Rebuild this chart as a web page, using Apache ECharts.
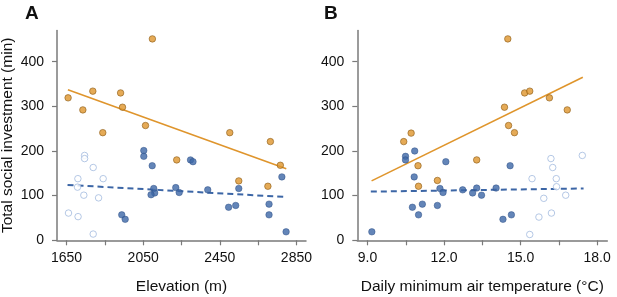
<!DOCTYPE html>
<html>
<head>
<meta charset="utf-8">
<script src="https://cdn.jsdelivr.net/npm/echarts@6/dist/echarts.min.js"></script>
<style>html,body{margin:0;padding:0;background:#fff}#c{width:617px;height:297px}</style>
</head>
<body>
<div id="c"></div>
<script>
// ---- Panel A: elevation (m) ----
const elevOrange = [1658,1735,1787,1839,1932,1942,2062,2098,2225,2502,2549,2701,2714,2766];
const socOrangeA = [319,292,334,241,330,298,257,451,180,241,133,121,221,168];
const elevBlue = [2053,2053,2097,2105,2110,2091,2220,2238,1938,1956,2297,2310,2387,2549,2774,2496,2533,2707,2707,2796];
const socBlueA = [201,188,167,116,106,102,118,107,57,47,180,176,113,116,142,74,78,81,57,19];
const elevOpen = [1744,1744,1789,1709,1841,1707,1740,1817,1660,1710,1789];
const socOpenA = [190,183,163,138,138,119,101,95,61,53,14];
const trendOrangeA_x = [1657,2797], trendOrangeA_y = [337,160];
const trendBlueA_x = [1655,2797], trendBlueA_y = [124,97];

// ---- Panel B: daily minimum air temperature (°C) ----
const tempOrange = [10.42,10.71,10.98,11.0,11.74,13.28,14.76,14.50,15.16,15.36,16.13,16.83,14.37,14.53];
const socOrangeB = [221,240,167,121,134,180,241,451,330,334,319,292,298,257];
const tempBlue = [10.49,10.49,10.85,10.83,12.07,11.84,11.96,12.73,13.12,13.28,13.47,10.76,11.15,11.0,11.74,9.17,14.59,14.04,14.31,14.64];
const socBlueB = [188,180,200,142,176,116,107,113,106,117,101,74,81,57,78,19,167,117,47,57];
const tempOpen = [16.19,16.26,17.42,15.45,16.40,16.41,16.77,15.91,16.21,15.72,15.36];
const socOpenB = [183,163,190,138,138,120,101,94,61,52,13];
const trendOrangeB_x = [9.16,17.44], trendOrangeB_y = [133,365];
const trendBlueB_x = [9.13,17.47], trendBlueB_y = [109,116];

// ---- ticks ----
const yTicks = [0,100,200,300,400];
const elevTicks = [1650,1850,2050,2250,2450,2650,2850];
const elevLabels = [1650,2050,2450,2850];
const tempTicks = [9,10.5,12,13.5,15,16.5,18];
const tempLabels = [9,12,15,18];

const zip = (a,b) => a.map((v,i)=>[v,b[i]]);
const FONT = 'Liberation Sans, Arial, Helvetica, sans-serif';
const AX = '#7a7a7a';
const ORANGE = '#DF952C', ORANGE_B = '#8E5E1A';
const BLUE = '#3C66A6', BLUE_B = '#2C4E85';
const OPEN = '#A3BADF';

function xAxisBase(idx, min, max, ticks, labels, name, fmt) {
  return {
    type:'value', gridIndex: idx, min, max,
    name, nameLocation:'middle', nameGap: 38,
    nameTextStyle:{fontFamily:FONT, fontSize:15.5, color:'#111'},
    axisLine:{show:true, onZero:false, lineStyle:{color:AX, width:1.5}},
    axisTick:{show:true, length:5, customValues:ticks, lineStyle:{color:AX, width:1.2}},
    axisLabel:{customValues:labels, margin:11, fontFamily:FONT, fontSize:14, color:'#111', formatter: fmt},
    splitLine:{show:false}
  };
}
function yAxisBase(idx, withName) {
  return {
    type:'value', gridIndex: idx, min:0, max:470,
    name: withName ? 'Total social investment (min)' : '',
    nameLocation:'middle', nameGap: 41,
    nameTextStyle:{fontFamily:FONT, fontSize:15.5, color:'#111'},
    axisLine:{show:true, lineStyle:{color:AX, width:1.5}},
    axisTick:{show:true, length:5, customValues:yTicks, lineStyle:{color:AX, width:1.2}},
    axisLabel:{customValues:yTicks, margin:13, fontFamily:FONT, fontSize:14, color:'#111'},
    splitLine:{show:false}
  };
}
function scat(idx, data, kind) {
  const st = kind==='orange' ? {color:ORANGE, borderColor:ORANGE_B, borderWidth:0.8}
           : kind==='blue' ? {color:BLUE, borderColor:BLUE_B, borderWidth:0.6}
           : {color:'#fff', borderColor:OPEN, borderWidth:1};
  return {type:'scatter', xAxisIndex:idx, yAxisIndex:idx, data, symbolSize:6.5, itemStyle:st, z:3, silent:true};
}
function trend(idx, data, color, dashed) {
  return {type:'line', xAxisIndex:idx, yAxisIndex:idx, data, symbol:'none', z:2, silent:true,
    lineStyle:{color, width: dashed?2:1.6, type: dashed?[6,4]:'solid'}};
}

const chart = echarts.init(document.getElementById('c'), null, {renderer:'canvas'});
chart.setOption({
  animation:false,
  backgroundColor:'#fff',
  grid:[
    {left:57, top:30.4, width:249, height:209.9, outerBoundsMode:'none', containLabel:false},
    {left:357.3, top:30.4, width:250, height:209.9, outerBoundsMode:'none', containLabel:false}
  ],
  xAxis:[
    xAxisBase(0, 1600, 2900, elevTicks, elevLabels, 'Elevation (m)', v=>String(v)),
    xAxisBase(1, 8.6, 18.4, tempTicks, tempLabels, 'Daily minimum air temperature (°C)', v=>Number(v).toFixed(1))
  ],
  yAxis:[ yAxisBase(0,true), yAxisBase(1,false) ],
  graphic:[
    {type:'text', left:25, top:4, style:{text:'A', font:'bold 19px '+FONT, fill:'#111'}},
    {type:'text', left:324, top:4, style:{text:'B', font:'bold 19px '+FONT, fill:'#111'}}
  ],
  series:[
    trend(0, zip(trendOrangeA_x, trendOrangeA_y), ORANGE, false),
    trend(0, zip(trendBlueA_x, trendBlueA_y), BLUE, true),
    scat(0, zip(elevOpen, socOpenA), 'open'),
    scat(0, zip(elevBlue, socBlueA), 'blue'),
    scat(0, zip(elevOrange, socOrangeA), 'orange'),
    trend(1, zip(trendOrangeB_x, trendOrangeB_y), ORANGE, false),
    trend(1, zip(trendBlueB_x, trendBlueB_y), BLUE, true),
    scat(1, zip(tempOpen, socOpenB), 'open'),
    scat(1, zip(tempBlue, socBlueB), 'blue'),
    scat(1, zip(tempOrange, socOrangeB), 'orange')
  ]
});
</script>
</body>
</html>
